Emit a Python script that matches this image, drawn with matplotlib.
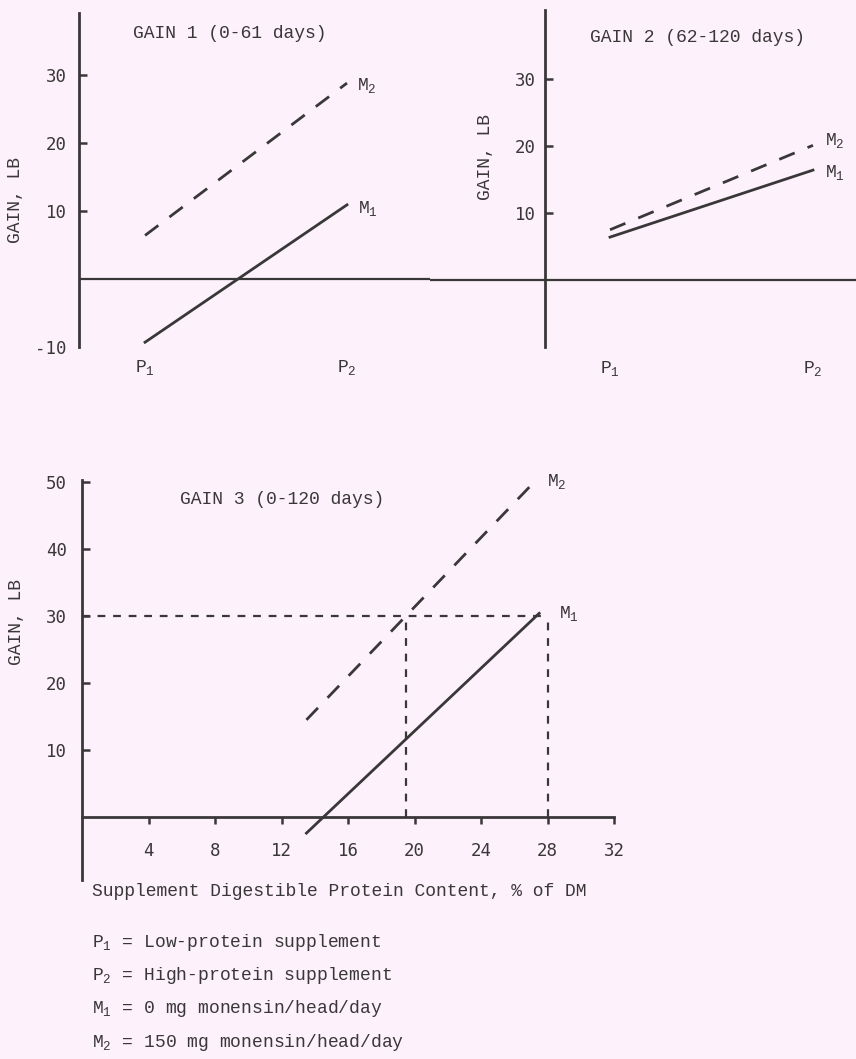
import numpy as np
import matplotlib.pyplot as plt

# ---- data ----
supp_pos = [1, 2]                      # P1, P2
supp_labels = ['P$_1$', 'P$_2$']

gain1_m1 = [-9.3, 10.9]
gain1_m2 = [6.4, 28.8]

gain2_m1 = [6.4, 16.4]
gain2_m2 = [7.5, 20.1]

# gain 3 against supplement digestible protein (% of DM)
gain3_m1_x = [13.5, 27.5]
gain3_m1_y = [-2.4, 30.4]
gain3_m2_x = [13.5, 27.2]
gain3_m2_y = [14.5, 50.0]
ref_gain = 30
ref_protein = [19.5, 28]

yticks_top = [10, 20, 30]
yticks_gain3 = [10, 20, 30, 40, 50]
xticks_gain3 = [4, 8, 12, 16, 20, 24, 28, 32]

legend_lines = [
    'P$_1$ = Low-protein supplement',
    'P$_2$ = High-protein supplement',
    'M$_1$ = 0 mg monensin/head/day',
    'M$_2$ = 150 mg monensin/head/day',
]

ink = '#3a3739'
paper = '#fdf2fb'
txt_font = 'Liberation Mono'
num_font = 'DejaVu Sans Mono'

plt.rcParams['font.family'] = [txt_font, 'DejaVu Sans']
plt.rcParams['mathtext.default'] = 'regular'
plt.rcParams['text.color'] = ink

W, H = 856, 1059
fig = plt.figure(figsize=(W / 100, H / 100), dpi=100, facecolor=paper)


def box(x0, y0, x1, y1):
    # pixel box -> figure fraction rect
    return [x0 / W, 1 - y1 / H, (x1 - x0) / W, (y1 - y0) / H]


def style_top(ax, spine_frac, ytick_pad, xtick_pad):
    ax.set_facecolor('none')
    for s in ['top', 'right', 'bottom']:
        ax.spines[s].set_visible(False)
    ax.spines['left'].set_position(('axes', spine_frac))
    ax.spines['left'].set_color(ink)
    ax.spines['left'].set_linewidth(2)
    ax.axhline(0, color=ink, lw=1.6)
    ax.set_yticks(yticks_top)
    ax.tick_params(axis='y', direction='in', length=6, width=1.8, color=ink,
                   pad=ytick_pad, labelsize=12.5, labelcolor=ink)
    for lab in ax.get_yticklabels():
        lab.set_fontfamily(num_font)
    ax.set_xticks(supp_pos)
    ax.set_xticklabels(supp_labels, fontsize=13)
    ax.tick_params(axis='x', length=0, pad=xtick_pad, labelcolor=ink)


def mlabel(ax, text, xy, dx, dy):
    ax.annotate(text, xy=xy, xytext=(dx, dy), textcoords='offset points',
                ha='left', va='baseline', fontsize=13, color=ink,
                annotation_clip=False)


# ---- GAIN 1 ----
ax1 = fig.add_axes(box(79, 13, 430, 347))
ax1.set_xlim(0.673, 2.411)
ax1.set_ylim(-10, 39.1)
style_top(ax1, 0.0, 9, 8)
ax1.plot(supp_pos, gain1_m1, color=ink, lw=2)
ax1.plot(supp_pos, gain1_m2, color=ink, lw=2, dashes=(6, 5))
ax1.set_yticks([-10] + yticks_top)
ax1.set_yticklabels(['-10', '10', '20', '30'], fontfamily=num_font)
ax1.get_yaxis().get_major_ticks()[0].tick1line.set_visible(False)
ax1.text(0.154, 0.94, 'GAIN 1 (0-61 days)', transform=ax1.transAxes,
         fontsize=13, va='center')
ax1.set_ylabel('GAIN, LB', fontsize=13, color=ink)
ax1.yaxis.set_label_coords(-0.157, 0.44)
mlabel(ax1, 'M$_2$', (2, gain1_m2[1]), 7, -5)
mlabel(ax1, 'M$_1$', (2, gain1_m1[1]), 8, -5.8)

# ---- GAIN 2 ----
ax2 = fig.add_axes(box(430, 10, 856, 347))
ax2.set_xlim(0.113, 2.212)
ax2.set_ylim(-10, 40.3)
style_top(ax2, (545 - 430) / 426, 6.5, 9)
ax2.plot(supp_pos, gain2_m1, color=ink, lw=2)
ax2.plot(supp_pos, gain2_m2, color=ink, lw=2, dashes=(6, 5))
ax2.text(0.376, 0.917, 'GAIN 2 (62-120 days)', transform=ax2.transAxes,
         fontsize=13, va='center')
ax2.set_ylabel('GAIN, LB', fontsize=13, color=ink)
ax2.yaxis.set_label_coords(0.150, 0.564)
mlabel(ax2, 'M$_2$', (2, gain2_m2[1]), 9, 0)
mlabel(ax2, 'M$_1$', (2, gain2_m1[1]), 9, -5)

# ---- GAIN 3 ----
ax3 = fig.add_axes(box(82, 480, 614, 880))
ax3.set_facecolor('none')
ax3.set_xlim(0, 32)
ax3.set_ylim(-9.4, 50.3)
for s in ['top', 'right']:
    ax3.spines[s].set_visible(False)
ax3.spines['bottom'].set_position(('data', 0))
for s in ['left', 'bottom']:
    ax3.spines[s].set_color(ink)
    ax3.spines[s].set_linewidth(2)
ax3.set_xticks(xticks_gain3)
ax3.set_yticks(yticks_gain3)
ax3.tick_params(axis='x', direction='out', length=5, width=1.8, color=ink,
                pad=13, labelsize=12.5, labelcolor=ink)
ax3.tick_params(axis='y', direction='in', length=6, width=1.8, color=ink,
                pad=11, labelsize=12.5, labelcolor=ink)
for lab in ax3.get_xticklabels() + ax3.get_yticklabels():
    lab.set_fontfamily(num_font)

ax3.plot(gain3_m1_x, gain3_m1_y, color=ink, lw=2)
ax3.plot(gain3_m2_x, gain3_m2_y, color=ink, lw=2, dashes=(6, 5))
ax3.plot([0, ref_protein[1]], [ref_gain, ref_gain], color=ink, lw=1.6,
         dashes=(3.5, 3.5))
for xp in ref_protein:
    ax3.plot([xp, xp], [0, ref_gain], color=ink, lw=1.6, dashes=(3.5, 3.5))

ax3.text(0.184, 0.95, 'GAIN 3 (0-120 days)', transform=ax3.transAxes,
         fontsize=13, va='center')
ax3.set_ylabel('GAIN, LB', fontsize=13, color=ink)
ax3.yaxis.set_label_coords(-0.107, 0.645)
mlabel(ax3, 'M$_2$', (gain3_m2_x[1], gain3_m2_y[1]), 9, -3)
mlabel(ax3, 'M$_1$', (gain3_m1_x[1], gain3_m1_y[1]), 14, -3.6)

fig.text(92 / W, 1 - 896 / H,
         'Supplement Digestible Protein Content, % of DM',
         fontsize=13, va='baseline', ha='left')

baselines = [947, 980, 1013, 1047]
for line, yb in zip(legend_lines, baselines):
    fig.text(92 / W, 1 - yb / H, line, fontsize=13, va='baseline', ha='left')

fig.savefig('out.png', dpi=100, facecolor=paper)
